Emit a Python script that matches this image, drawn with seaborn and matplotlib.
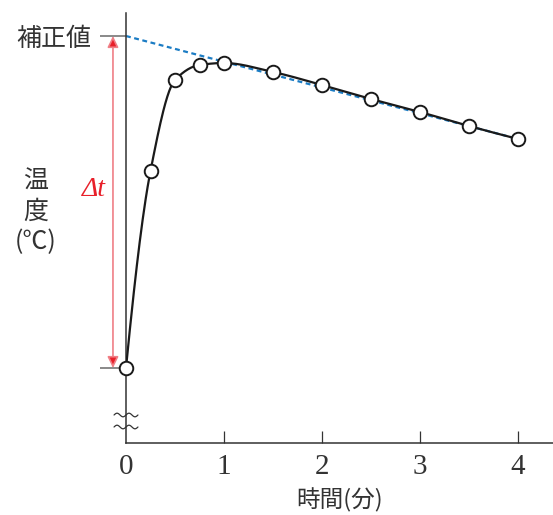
import numpy as np
import pandas as pd
import matplotlib
matplotlib.use("Agg")
import matplotlib.pyplot as plt
import seaborn as sns

# ----------------------------
# data
# ----------------------------
times = [0, 0.25, 0.5, 0.75, 1, 1.5, 2, 2.5, 3, 3.5, 4]
temps = [7.5, 27.2, 36.3, 37.8, 38.0, 37.1, 35.8, 34.4, 33.1, 31.7, 30.4]
corrected_value = 40.7          # 補正値 (extrapolated to t=0)
extrap_times = [0, 4]
extrap_temps = [corrected_value, 30.4]
xticks = [0, 1, 2, 3, 4]

TEXT = "#333333"
RED = "#e8202a"
BLUE = "#1b7cc4"


def pchip(x, y, xs):
    # monotone cubic hermite, used only to draw the smooth curve
    x = np.asarray(x, float)
    y = np.asarray(y, float)
    h = np.diff(x)
    d = np.diff(y) / h
    m = np.zeros_like(y)
    for k in range(1, len(x) - 1):
        if d[k - 1] * d[k] > 0:
            w1 = 2 * h[k] + h[k - 1]
            w2 = h[k] + 2 * h[k - 1]
            m[k] = (w1 + w2) / (w1 / d[k - 1] + w2 / d[k])
    m[0] = ((2 * h[0] + h[1]) * d[0] - h[0] * d[1]) / (h[0] + h[1])
    m[-1] = ((2 * h[-1] + h[-2]) * d[-1] - h[-1] * d[-2]) / (h[-1] + h[-2])
    idx = np.clip(np.searchsorted(x, xs) - 1, 0, len(x) - 2)
    t = (xs - x[idx]) / h[idx]
    h00 = 2 * t**3 - 3 * t**2 + 1
    h10 = t**3 - 2 * t**2 + t
    h01 = -2 * t**3 + 3 * t**2
    h11 = t**3 - t**2
    return h00 * y[idx] + h10 * h[idx] * m[idx] + h01 * y[idx + 1] + h11 * h[idx] * m[idx + 1]


sns.set_style("white")
plt.rcParams["font.family"] = ["Noto Sans CJK JP", "DejaVu Sans"]

fig = plt.figure(figsize=(5.53, 5.15), dpi=100)
ax = fig.add_axes([126 / 553, 1 - 443 / 515, 1 - 126 / 553, (443 - 13) / 515])

# smooth measured curve
xs = np.linspace(times[0], times[-1], 400)
curve = pd.DataFrame({"t": xs, "T": pchip(times, temps, xs)})
sns.lineplot(data=curve, x="t", y="T", ax=ax, color="#1a1a1a", lw=1.6, zorder=3)

# extrapolated straight line
ext = pd.DataFrame({"t": extrap_times, "T": extrap_temps})
sns.lineplot(data=ext, x="t", y="T", ax=ax, color=BLUE, lw=1.6,
             linestyle=(0, (2.2, 1.6)), zorder=2)

# measured points
pts = pd.DataFrame({"t": times, "T": temps})
sns.scatterplot(data=pts, x="t", y="T", ax=ax, s=95, color="white",
                edgecolor="#1a1a1a", linewidth=1.4, zorder=5, clip_on=False)

ax.set_xlim(0, 4.357)
ax.set_ylim(0, 43.0)

# spines
for side in ["top", "right"]:
    ax.spines[side].set_visible(False)
for side in ["left", "bottom"]:
    ax.spines[side].set_color(TEXT)
    ax.spines[side].set_linewidth(1.1)

# x ticks (no tick mark at 0)
ax.set_xticks(xticks)
ax.set_xticklabels([str(v) for v in xticks], family="Liberation Serif",
                   fontsize=21, color=TEXT)
ax.tick_params(axis="x", bottom=True, direction="in", length=8.5, width=0.9,
               color=TEXT, pad=8)
ax.xaxis.get_major_ticks()[0].tick1line.set_visible(False)

# y ticks: corrected value and starting value
ax.set_yticks([corrected_value, temps[0]])
ax.set_yticklabels(["補正値", ""], fontsize=18, color=TEXT)
ax.tick_params(axis="y", left=True, direction="out", length=19, width=1.3,
               color="#808080", pad=6)

ax.set_xlabel("時間(分)", fontsize=17, color=TEXT, labelpad=6)
ax.set_ylabel("")
fig.text(36 / 553, 1 - 212 / 515, "温\n度\n(℃)", ha="center", va="center",
         fontsize=18, color=TEXT, linespacing=1.2)

# Δt arrow
ax.annotate("", xy=(-0.133, corrected_value), xytext=(-0.133, temps[0]),
            xycoords="data", annotation_clip=False,
            arrowprops=dict(arrowstyle="<|-|>,head_length=0.45,head_width=0.22",
                            mutation_scale=15, fc=RED, ec="#f07f86", lw=1.2,
                            shrinkA=0, shrinkB=0))
ax.text(-0.33, 25.4, "Δt", ha="center", va="center", color=RED,
        family="Liberation Serif", style="italic", fontsize=20,
        clip_on=False)

# axis break marks
wx = np.linspace(-0.122, 0.122, 60)
for yb in [2.8, 1.6]:
    ax.plot(wx, yb + 0.18 * np.sin(wx / 0.122 * 2 * np.pi), color=TEXT,
            lw=0.9, clip_on=False, zorder=4)

fig.savefig("out.png", dpi=100)
